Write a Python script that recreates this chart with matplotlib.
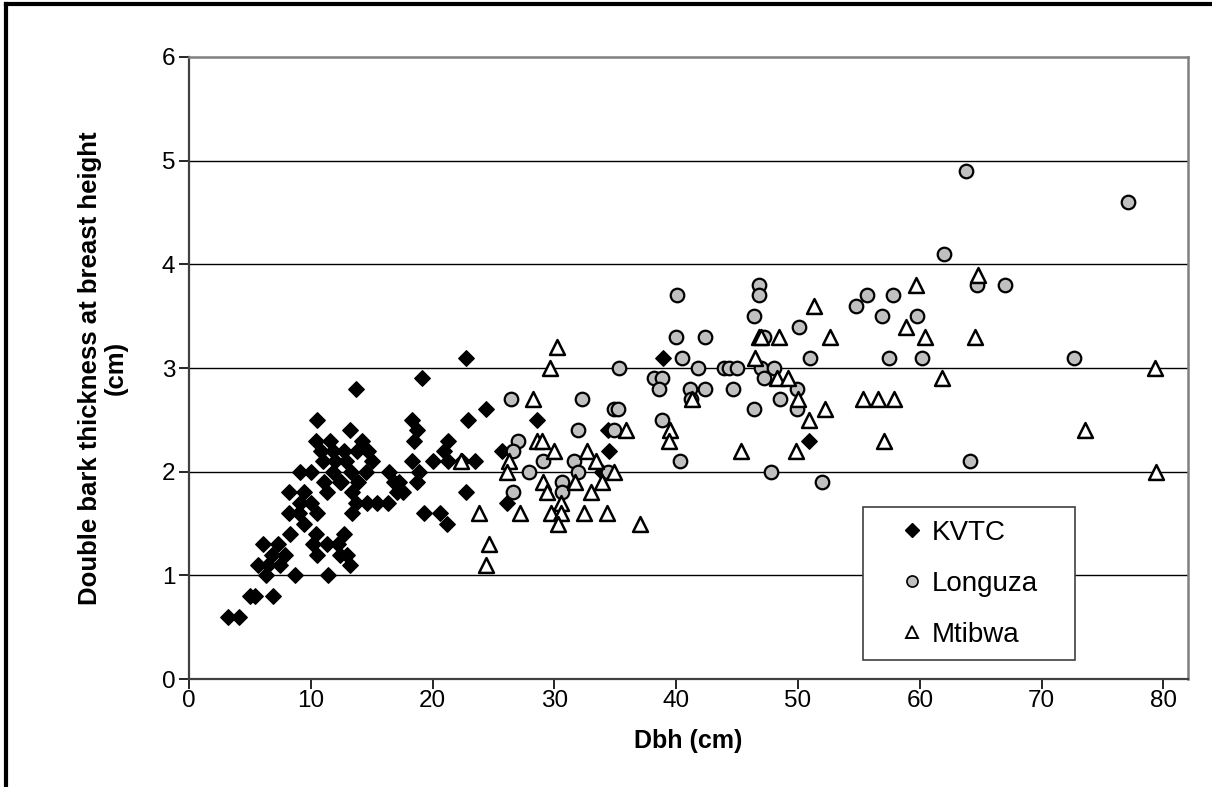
import matplotlib
matplotlib.use('Agg')
import matplotlib.pyplot as plt
from matplotlib.lines import Line2D
from matplotlib.patches import Rectangle

plt.rcParams['font.family'] = ['Liberation Sans', 'DejaVu Sans']

# KVTC (filled diamonds)
kvtc_dbh = [3.2, 4.1, 5.0, 5.4, 6.9, 6.3, 8.7, 11.4, 5.7, 6.5, 7.5, 13.2,
            6.8, 7.9, 10.5, 12.4, 13.0, 6.1, 7.3, 10.2, 11.3, 12.2, 8.3, 10.4,
            12.7, 9.4, 8.2, 9.0, 10.5, 13.4, 9.1, 10.0, 13.7, 14.6, 15.4, 16.3,
            8.2, 9.4, 11.3, 13.4, 12.4, 16.8, 9.1, 10.0, 11.8, 16.4, 11.0, 15.0,
            10.4, 11.6, 12.7, 13.8, 14.2, 14.7, 13.2, 10.5, 13.7,
            12.0, 12.9, 13.3, 11.8, 12.5, 11.1, 13.9, 14.5, 10.8,
            17.1, 17.6, 17.2, 18.7, 18.9, 18.3, 20.0, 21.3, 22.4, 23.5, 20.9,
            25.7, 18.5, 21.3, 18.7, 18.3, 22.9, 24.4, 19.1, 22.7, 22.7, 26.1,
            19.3, 20.6, 21.2, 28.6, 33.9, 34.4, 34.5, 38.9, 50.9]
kvtc_bark = [0.6, 0.6, 0.8, 0.8, 0.8, 1.0, 1.0, 1.0, 1.1, 1.1, 1.1, 1.1,
             1.2, 1.2, 1.2, 1.2, 1.2, 1.3, 1.3, 1.3, 1.3, 1.3, 1.4, 1.4,
             1.4, 1.5, 1.6, 1.6, 1.6, 1.6, 1.7, 1.7, 1.7, 1.7, 1.7, 1.7,
             1.8, 1.8, 1.8, 1.8, 1.9, 1.9, 2.0, 2.0, 2.0, 2.0, 2.1, 2.1,
             2.3, 2.3, 2.2, 2.2, 2.3, 2.2, 2.4, 2.5, 2.8,
             2.1, 2.1, 2.0, 2.2, 1.9, 1.9, 1.9, 2.0, 2.2,
             1.8, 1.8, 1.9, 1.9, 2.0, 2.1, 2.1, 2.1, 2.1, 2.1, 2.2,
             2.2, 2.3, 2.3, 2.4, 2.5, 2.5, 2.6, 2.9, 3.1, 1.8, 1.7,
             1.6, 1.6, 1.5, 2.5, 2.0, 2.4, 2.2, 3.1, 2.3]

# Longuza (grey circles)
long_dbh = [35.3, 26.4, 32.3, 34.9, 35.2, 31.9, 34.9, 27.0, 26.6, 29.1, 31.6,
            31.9, 27.9, 34.4, 30.6, 30.6, 26.6, 40.1, 46.8, 46.8, 46.4, 40.0,
            42.4, 47.2, 50.1, 40.5, 51.0, 41.8, 43.9, 44.3, 45.0, 47.0, 48.0,
            38.2, 38.8, 47.2, 38.6, 41.1, 42.4, 44.7, 49.9, 41.2, 48.5, 46.4,
            49.9, 38.8, 40.3, 47.8, 52.0, 54.8, 55.7, 57.8, 56.9, 57.5, 63.8,
            77.1, 62.0, 64.7, 67.0, 59.8, 60.2, 72.7, 64.1]
long_bark = [3.0, 2.7, 2.7, 2.6, 2.6, 2.4, 2.4, 2.3, 2.2, 2.1, 2.1,
             2.0, 2.0, 2.0, 1.9, 1.8, 1.8, 3.7, 3.8, 3.7, 3.5, 3.3,
             3.3, 3.3, 3.4, 3.1, 3.1, 3.0, 3.0, 3.0, 3.0, 3.0, 3.0,
             2.9, 2.9, 2.9, 2.8, 2.8, 2.8, 2.8, 2.8, 2.7, 2.7, 2.6,
             2.6, 2.5, 2.1, 2.0, 1.9, 3.6, 3.7, 3.7, 3.5, 3.1, 4.9,
             4.6, 4.1, 3.8, 3.8, 3.5, 3.1, 3.1, 2.1]

# Mtibwa (open triangles)
mt_dbh = [30.2, 29.6, 28.2, 28.6, 29.0, 30.0, 32.7, 26.3, 33.4, 22.3, 26.1,
          29.1, 31.7, 33.9, 34.9, 29.4, 33.0, 30.5, 23.8, 27.2, 29.7, 30.5,
          32.4, 34.3, 30.3, 24.6, 24.4, 37.0, 35.9, 51.3, 46.8, 47.0, 48.4,
          52.6, 46.5, 48.3, 49.2, 50.0, 55.3, 56.6, 57.9, 52.2, 50.9, 57.1,
          45.3, 49.8, 41.3, 39.5, 39.4, 64.8, 59.7, 58.9, 60.4, 64.5, 61.8,
          79.3, 73.6, 79.4]
mt_bark = [3.2, 3.0, 2.7, 2.3, 2.3, 2.2, 2.2, 2.1, 2.1, 2.1, 2.0,
           1.9, 1.9, 1.9, 2.0, 1.8, 1.8, 1.7, 1.6, 1.6, 1.6, 1.6,
           1.6, 1.6, 1.5, 1.3, 1.1, 1.5, 2.4, 3.6, 3.3, 3.3, 3.3,
           3.3, 3.1, 2.9, 2.9, 2.7, 2.7, 2.7, 2.7, 2.6, 2.5, 2.3,
           2.2, 2.2, 2.7, 2.4, 2.3, 3.9, 3.8, 3.4, 3.3, 3.3, 2.9,
           3.0, 2.4, 2.0]

x_ticks = [0, 10, 20, 30, 40, 50, 60, 70, 80]
y_ticks = [0, 1, 2, 3, 4, 5, 6]

fig = plt.figure(figsize=(12.12, 7.87), dpi=100)
ax = fig.add_axes([0.156, 0.1372, 0.824, 0.7904])

# horizontal gridlines
for yv in y_ticks[1:-1]:
    ax.axhline(yv, color='black', lw=1.0, zorder=1)

ax.scatter(kvtc_dbh, kvtc_bark, marker='D', s=62, color='black', zorder=3)
ax.scatter(long_dbh, long_bark, marker='o', s=95, facecolor='#c0c0c0',
           edgecolor='black', linewidths=1.6, zorder=4)
ax.scatter(mt_dbh, mt_bark, marker='^', s=115, facecolor='white',
           edgecolor='black', linewidths=1.8, zorder=5)

ax.set_xlim(0, 82)
ax.set_ylim(0, 6)
ax.set_xticks(x_ticks)
ax.set_yticks(y_ticks)
ax.tick_params(axis='both', direction='out', length=7, width=1.2,
               labelsize=17.5, colors='black')
ax.tick_params(axis='x', pad=1)
ax.tick_params(axis='y', pad=3)
for side in ['top', 'right']:
    ax.spines[side].set_color('#808080')
    ax.spines[side].set_linewidth(1.8)
for side in ['left', 'bottom']:
    ax.spines[side].set_color('#404040')
    ax.spines[side].set_linewidth(1.6)

ax.text(-0.086, 0.5, 'Double bark thickness at breast height\n(cm)',
        transform=ax.transAxes, rotation=90, ha='center', va='center',
        fontsize=18.5, fontweight='bold', multialignment='center', linespacing=1.1)
ax.text(0.5, -0.1, 'Dbh (cm)', transform=ax.transAxes, ha='center', va='center',
        fontsize=18, fontweight='bold')

# legend box
ax.add_patch(Rectangle((0.675, 0.03), 0.212, 0.247, transform=ax.transAxes,
                       facecolor='white', edgecolor='#404040', lw=1.2, zorder=6))
handles = [
    Line2D([], [], ls='none', marker='D', ms=7, color='black'),
    Line2D([], [], ls='none', marker='o', ms=8, mfc='#c0c0c0', mec='black', mew=1.2),
    Line2D([], [], ls='none', marker='^', ms=8, mfc='white', mec='black', mew=1.4),
]
leg = ax.legend(handles, ['KVTC', 'Longuza', 'Mtibwa'], loc='center',
                bbox_to_anchor=(0.675, 0.03, 0.212, 0.247), frameon=False,
                fontsize=20, handlelength=0.8, handletextpad=0.3, labelspacing=0.9)
leg.set_zorder(7)

# chart-area border (left and top)
fig.add_artist(Line2D([0.005, 0.005], [0, 0.995], transform=fig.transFigure, color='black', lw=3))
fig.add_artist(Line2D([0.005, 1.0], [0.995, 0.995], transform=fig.transFigure, color='black', lw=3))

fig.savefig('out.png', dpi=100)
